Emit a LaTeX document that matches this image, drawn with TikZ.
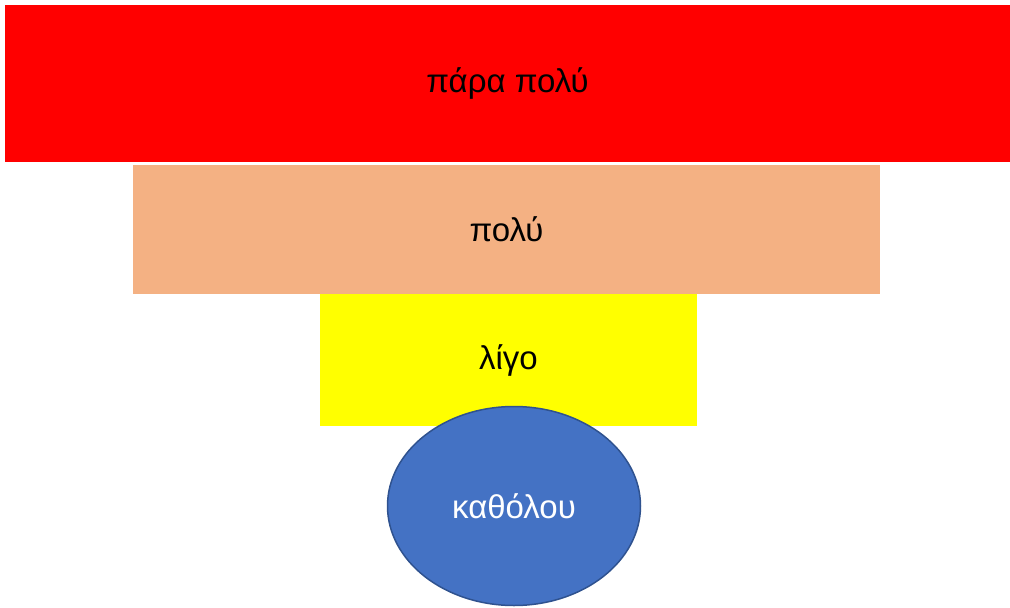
\documentclass[tikz,border=0pt]{standalone}
\usepackage{fontspec}
\setmainfont{Liberation Sans}
\usetikzlibrary{shapes.geometric}
\definecolor{topred}{RGB}{255,0,0}
\definecolor{peach}{RGB}{244,177,131}
\definecolor{pureyellow}{RGB}{255,255,0}
\definecolor{ellblue}{RGB}{68,114,196}
\definecolor{ellborder}{RGB}{47,82,143}

\begin{document}
\begin{tikzpicture}[x=1pt, y=-1pt,
    band/.style={rectangle, draw=none, inner sep=0pt, font=\fontsize{33}{39}\selectfont},
    blob/.style={ellipse, draw=ellborder, line width=1.5pt, fill=ellblue, inner sep=0pt,
        text=white, font=\fontsize{33}{39}\selectfont}
]
    \useasboundingbox (0,0) rectangle (1010,608);
    \node[band, fill=topred, minimum width=1005pt, minimum height=157pt] (para) at (507.5,83.5) {πάρα πολύ};
    \node[band, fill=peach, minimum width=747pt, minimum height=129pt] (poly) at (506.5,229.5) {πολύ};
    \node[band, fill=pureyellow, minimum width=377pt, minimum height=132pt] (ligo) at (508.5,360) {λίγο};
    \node[blob, minimum width=253pt, minimum height=199pt] (katholou) at (514,506) {καθόλου};
\end{tikzpicture}
\end{document}
